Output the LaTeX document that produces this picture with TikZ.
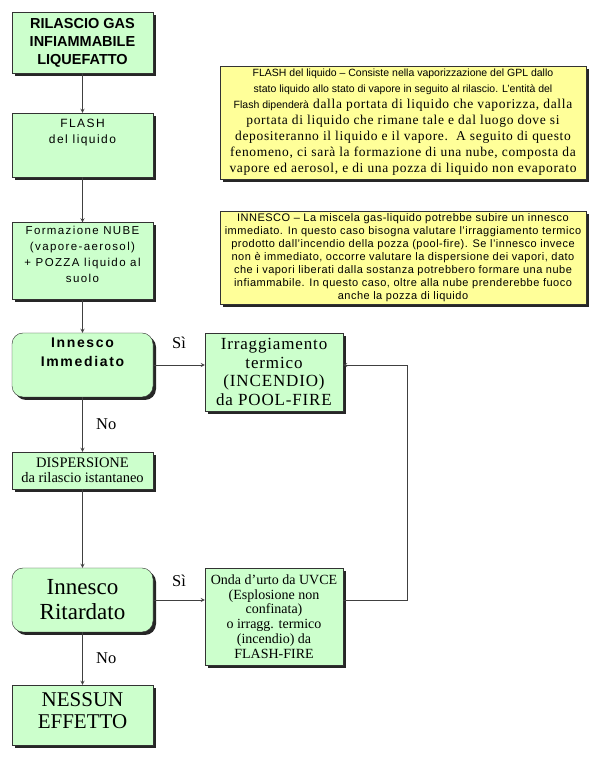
\documentclass[tikz,border=0pt]{standalone}
\usepackage{fontspec}
\setmainfont{Liberation Serif}
\setsansfont{Liberation Sans}
\newfontfamily\spacedsf[LetterSpace=12]{Liberation Sans}
\newfontfamily\spacedrm[LetterSpace=5]{Liberation Serif}
\newfontfamily\notefont[LetterSpace=4.5]{Liberation Sans}
\usetikzlibrary{shapes.geometric, arrows, positioning, shadows}
\definecolor{boxgreen}{HTML}{CCFFCC}
\definecolor{noteyellow}{HTML}{FFFF99}
\definecolor{linegray}{HTML}{404040}
\newcommand{\notesf}{\sffamily\fontsize{10.5}{16}\selectfont}
\tikzstyle{event} = [rectangle, minimum width=141pt, text centered, align=center, draw=black!80, fill=boxgreen, general shadow={fill=black!85, shadow xshift=3pt, shadow yshift=-3pt}]
\tikzstyle{check} = [event, rounded corners=11pt]
\tikzstyle{effect} = [event, minimum width=138pt, inner xsep=1pt]
\tikzstyle{note} = [rectangle, minimum width=366pt, text centered, align=center, inner sep=2pt, draw=black!80, fill=noteyellow, general shadow={fill=black!85, shadow xshift=3pt, shadow yshift=-3pt}]
\tikzstyle{answer} = [font=\fontsize{16.5}{18}\selectfont]
\tikzstyle{arrow} = [->, >=stealth, draw=linegray, line width=0.8pt]

\begin{document}
\begin{tikzpicture}[x=1pt, y=1pt, node distance=110pt]
\useasboundingbox (0,0) rectangle (594,758);

% Release Node
\node (release) [event, minimum height=61pt, font=\sffamily\bfseries\fontsize{14.5}{18}\selectfont] at (82.5,715.5) {RILASCIO GAS\\INFIAMMABILE\\LIQUEFATTO};

% Flash Node
\node (flash) [event, minimum height=64pt, text depth=27pt, below of=release, yshift=7.5pt, font=\spacedsf\fontsize{12}{16}\selectfont] {FLASH\\del liquido};

% Cloud and Pool Node
\node (cloud) [event, minimum height=76pt, text depth=14pt, below of=flash, yshift=-6pt, font=\spacedsf\fontsize{11.5}{16}\selectfont] {Formazione NUBE\\(vapore-aerosol)\\+ POZZA liquido al\\suolo};

% Immediate Ignition Decision
\node (immediate) [check, minimum height=64pt, text depth=25pt, below of=cloud, yshift=6pt, font=\spacedsf\bfseries\fontsize{14}{19}\selectfont] {Innesco\\Immediato};

% Pool Fire Node
\node (poolfire) [effect, minimum height=78pt, right of=immediate, xshift=81.5pt, yshift=-7pt, font=\spacedrm\fontsize{17}{18.8}\selectfont] {Irraggiamento\\termico\\(INCENDIO)\\da POOL-FIRE};

% Dispersion Node
\node (dispersion) [event, minimum height=37pt, below of=immediate, yshift=4.5pt, font=\fontsize{14.5}{15}\selectfont] {DISPERSIONE\\da rilascio istantaneo};

% Delayed Ignition Decision
\node (delayed) [check, minimum height=64pt, below of=dispersion, yshift=-19.5pt, font=\fontsize{23}{25}\selectfont] {Innesco\\Ritardato};

% UVCE / Flash Fire Node
\node (uvce) [effect, minimum height=97pt, right of=delayed, xshift=81.5pt, yshift=-16.5pt, font=\fontsize{14}{14.7}\selectfont] {Onda d’urto da UVCE\\(Esplosione non\\confinata)\\o irragg. termico\\(incendio) da\\FLASH-FIRE};

% No Effect Node
\node (noeffect) [event, minimum height=60pt, text depth=8pt, below of=delayed, yshift=-5pt, font=\fontsize{21}{22}\selectfont] {NESSUN\\EFFETTO};

% Notes
\node (noteFlash) [note, minimum height=113pt, right of=flash, xshift=210.5pt, yshift=22.5pt, font=\spacedrm\fontsize{13.5}{16}\selectfont] {
{\notesf FLASH del liquido – Consiste nella vaporizzazione del GPL dallo}\\
{\notesf stato liquido allo stato di vapore in seguito al rilascio. L’entità del}\\
{\notesf Flash dipenderà} dalla portata di liquido che vaporizza, dalla\\
portata di liquido che rimane tale e dal luogo dove si\\
depositeranno il liquido e il vapore.\ \ A seguito di questo\\
fenomeno, ci sarà la formazione di una nube, composta da\\
vapore ed aerosol, e di una pozza di liquido non evaporato
};

\node (noteIgnition) [note, minimum height=93pt, right of=cloud, xshift=210.5pt, yshift=3.5pt, font=\notefont\fontsize{11}{13}\selectfont] {
INNESCO – La miscela gas-liquido potrebbe subire un innesco\\
immediato. In questo caso bisogna valutare l’irraggiamento termico\\
prodotto dall’incendio della pozza (pool-fire). Se l’innesco invece\\
non è immediato, occorre valutare la dispersione dei vapori, dato\\
che i vapori liberati dalla sostanza potrebbero formare una nube\\
infiammabile. In questo caso, oltre alla nube prenderebbe fuoco\\
anche la pozza di liquido
};

% Arrows
\draw [arrow] (release) -- (flash);
\draw [arrow] (flash) -- (cloud);
\draw [arrow] (cloud) -- (immediate);
\draw [arrow] (immediate.east) -- node[answer, above, yshift=12.5pt] {Sì} (immediate.east -| poolfire.west);
\draw [arrow] (immediate) -- node[answer, right, xshift=10pt] {No} (dispersion);
\draw [arrow] (dispersion) -- (delayed);
\draw [arrow] (delayed.east) -- node[answer, above, yshift=9.5pt] {Sì} (delayed.east -| uvce.west);
\draw [arrow] (delayed) -- node[answer, right, xshift=10pt] {No} (noeffect);
\draw [arrow] (uvce.east |- delayed.east) -- ++(64,0) |- (poolfire.east |- immediate.east);

\end{tikzpicture}
\end{document}
